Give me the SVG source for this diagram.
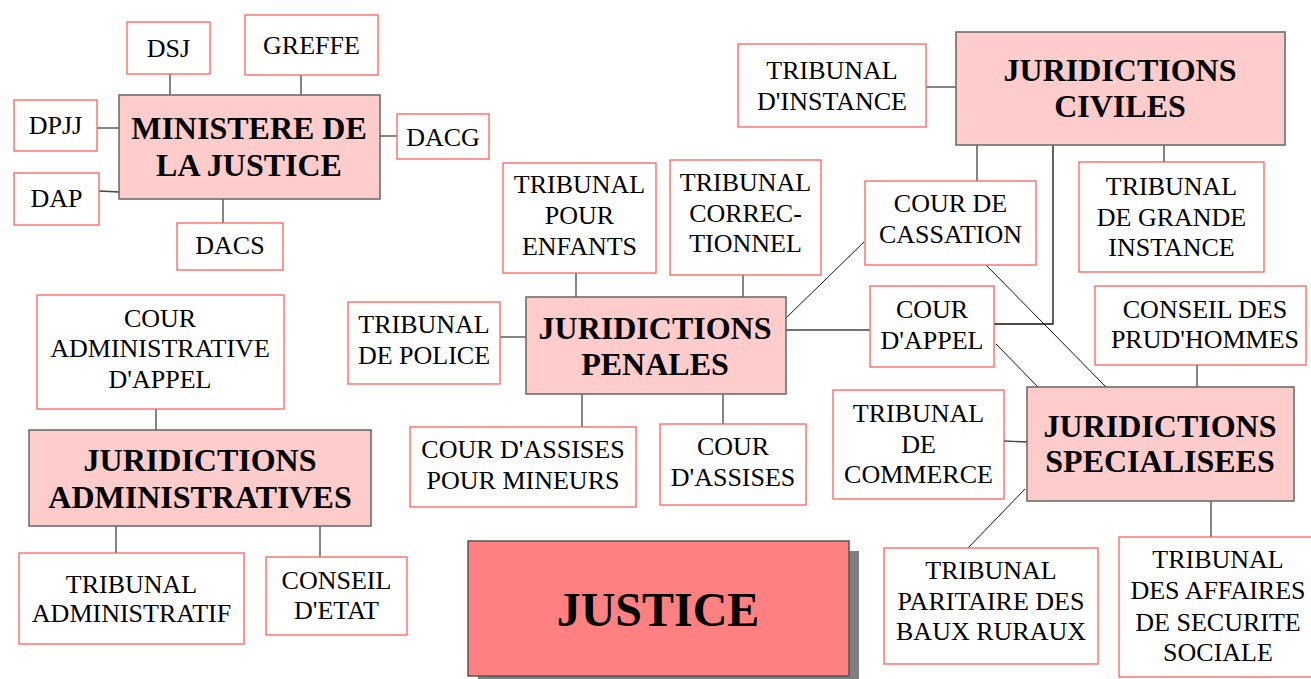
<svg xmlns="http://www.w3.org/2000/svg" width="1311" height="679" viewBox="0 0 1311 679">
<style>
.sm{fill:#fff;stroke:#ff6060;stroke-width:1.3}
.bg{fill:#ffcccc;stroke:#666;stroke-width:1.5}
.t{font-family:"Liberation Serif","Times New Roman",serif;font-size:26px;fill:#000;text-anchor:middle}
.b{font-family:"Liberation Serif","Times New Roman",serif;font-size:32px;font-weight:bold;fill:#000;text-anchor:middle}
.c line,.c polyline{stroke:#444;stroke-width:1.3;fill:none}
</style>
<rect width="1311" height="679" fill="#fff"/>
<g class="c" id="connectors">
<line x1="170" y1="74" x2="170" y2="95"/>
<line x1="301" y1="75" x2="301" y2="95"/>
<line x1="97" y1="128" x2="119" y2="128"/>
<line x1="99" y1="191" x2="119" y2="192"/>
<line x1="380" y1="136" x2="397" y2="136"/>
<line x1="223" y1="199" x2="223" y2="223"/>
<line x1="926" y1="87" x2="956" y2="87"/>
<line x1="977" y1="145" x2="977" y2="181"/>
<line x1="1164" y1="145" x2="1164" y2="162"/>
<polyline points="1053,145 1053,324 994,324" style="stroke:#111"/>
<line x1="986" y1="265" x2="1107" y2="388" style="stroke:#111;stroke-width:1"/>
<line x1="576" y1="273" x2="576" y2="297"/>
<line x1="743" y1="275" x2="743" y2="297"/>
<line x1="500" y1="337" x2="526" y2="337"/>
<line x1="785" y1="319" x2="864" y2="242" style="stroke:#111;stroke-width:1"/>
<line x1="786" y1="330" x2="870" y2="330"/>
<line x1="582" y1="394" x2="582" y2="427"/>
<line x1="723" y1="394" x2="723" y2="424"/>
<line x1="996" y1="344" x2="1038" y2="387" style="stroke:#111;stroke-width:1"/>
<line x1="1197" y1="365" x2="1197" y2="387"/>
<line x1="1004" y1="441" x2="1027" y2="442"/>
<line x1="1025" y1="489" x2="968" y2="548" style="stroke:#111;stroke-width:1"/>
<line x1="1211" y1="501" x2="1211" y2="537"/>
<line x1="156" y1="409" x2="156" y2="430"/>
<line x1="116" y1="526" x2="116" y2="553"/>
<line x1="320" y1="526" x2="320" y2="557"/>
</g>
<g id="ministere"><rect class="bg" x="119" y="95" width="261" height="104"/><text class="b" x="249" y="139">MINISTERE DE</text><text class="b" x="249" y="176">LA JUSTICE</text></g>
<g id="dsj"><rect class="sm" x="127" y="22" width="83" height="52"/><text class="t" x="168.5" y="57">DSJ</text></g>
<g id="greffe"><rect class="sm" x="245" y="15" width="133" height="60"/><text class="t" x="311.5" y="54">GREFFE</text></g>
<g id="dpjj"><rect class="sm" x="14" y="100" width="83" height="51"/><text class="t" x="55.5" y="134">DPJJ</text></g>
<g id="dap"><rect class="sm" x="14" y="173" width="85" height="52"/><text class="t" x="56.5" y="207">DAP</text></g>
<g id="dacg"><rect class="sm" x="397" y="114" width="92" height="45"/><text class="t" x="443" y="146">DACG</text></g>
<g id="dacs"><rect class="sm" x="177" y="223" width="106" height="47"/><text class="t" x="230" y="254">DACS</text></g>
<g id="civiles"><rect class="bg" x="956" y="32" width="329" height="113"/><text class="b" x="1120" y="81">JURIDICTIONS</text><text class="b" x="1120" y="117">CIVILES</text></g>
<g id="tinstance"><rect class="sm" x="738" y="44" width="188" height="83"/><text class="t" x="832" y="79">TRIBUNAL</text><text class="t" x="832" y="110">D'INSTANCE</text></g>
<g id="tgi"><rect class="sm" x="1079" y="162" width="185" height="110"/><text class="t" x="1171.5" y="195">TRIBUNAL</text><text class="t" x="1171.5" y="226">DE GRANDE</text><text class="t" x="1171.5" y="256">INSTANCE</text></g>
<g id="cassation"><rect class="sm" x="865" y="181" width="171" height="84"/><text class="t" x="950.5" y="212">COUR DE</text><text class="t" x="950.5" y="243">CASSATION</text></g>
<g id="penales"><rect class="bg" x="526" y="297" width="260" height="97"/><text class="b" x="655" y="339">JURIDICTIONS</text><text class="b" x="655" y="375">PENALES</text></g>
<g id="tenfants"><rect class="sm" x="503" y="163" width="153" height="110"/><text class="t" x="579.5" y="193">TRIBUNAL</text><text class="t" x="579.5" y="224">POUR</text><text class="t" x="579.5" y="255">ENFANTS</text></g>
<g id="tcorr"><rect class="sm" x="670" y="160" width="151" height="115"/><text class="t" x="745.5" y="191">TRIBUNAL</text><text class="t" x="745.5" y="222">CORREC-</text><text class="t" x="745.5" y="252">TIONNEL</text></g>
<g id="tpolice"><rect class="sm" x="348" y="302" width="152" height="82"/><text class="t" x="424" y="333">TRIBUNAL</text><text class="t" x="424" y="364">DE POLICE</text></g>
<g id="assmin"><rect class="sm" x="410" y="427" width="226" height="80"/><text class="t" x="523" y="458">COUR D'ASSISES</text><text class="t" x="523" y="489">POUR MINEURS</text></g>
<g id="assises"><rect class="sm" x="660" y="424" width="146" height="81"/><text class="t" x="733" y="455">COUR</text><text class="t" x="733" y="486">D'ASSISES</text></g>
<g id="appel"><rect class="sm" x="870" y="286" width="124" height="81"/><text class="t" x="932" y="318">COUR</text><text class="t" x="932" y="349">D'APPEL</text></g>
<g id="specialisees"><rect class="bg" x="1027" y="387" width="267" height="114"/><text class="b" x="1160" y="437">JURIDICTIONS</text><text class="b" x="1160" y="472">SPECIALISEES</text></g>
<g id="prudhommes"><rect class="sm" x="1095" y="286" width="211" height="79"/><text class="t" x="1205" y="318">CONSEIL DES</text><text class="t" x="1205" y="348">PRUD'HOMMES</text></g>
<g id="commerce"><rect class="sm" x="833" y="390" width="171" height="109"/><text class="t" x="918.5" y="422">TRIBUNAL</text><text class="t" x="918.5" y="453">DE</text><text class="t" x="918.5" y="483">COMMERCE</text></g>
<g id="paritaire"><rect class="sm" x="884" y="548" width="214" height="116"/><text class="t" x="991" y="579">TRIBUNAL</text><text class="t" x="991" y="610">PARITAIRE DES</text><text class="t" x="991" y="640">BAUX RURAUX</text></g>
<g id="secsoc"><rect class="sm" x="1119" y="537" width="200" height="140"/><text class="t" x="1218" y="568">TRIBUNAL</text><text class="t" x="1218" y="599">DES AFFAIRES</text><text class="t" x="1218" y="631">DE SECURITE</text><text class="t" x="1218" y="661">SOCIALE</text></g>
<g id="administratives"><rect class="bg" x="29" y="430" width="342" height="96"/><text class="b" x="200" y="471">JURIDICTIONS</text><text class="b" x="200" y="508">ADMINISTRATIVES</text></g>
<g id="caa"><rect class="sm" x="37" y="295" width="247" height="114"/><text class="t" x="160" y="327">COUR</text><text class="t" x="160" y="357">ADMINISTRATIVE</text><text class="t" x="160" y="388">D'APPEL</text></g>
<g id="tadmin"><rect class="sm" x="19" y="553" width="225" height="91"/><text class="t" x="131.5" y="593">TRIBUNAL</text><text class="t" x="131.5" y="622">ADMINISTRATIF</text></g>
<g id="conseiletat"><rect class="sm" x="266" y="557" width="141" height="78"/><text class="t" x="336.5" y="589">CONSEIL</text><text class="t" x="336.5" y="619">D'ETAT</text></g>
<g id="justice"><rect x="478" y="551" width="381" height="135" fill="#808080"/><rect x="468" y="541" width="381" height="135" fill="#ff8080" stroke="#555" stroke-width="1.5"/><text class="b" x="658" y="626" style="font-size:48px">JUSTICE</text></g>
</svg>
